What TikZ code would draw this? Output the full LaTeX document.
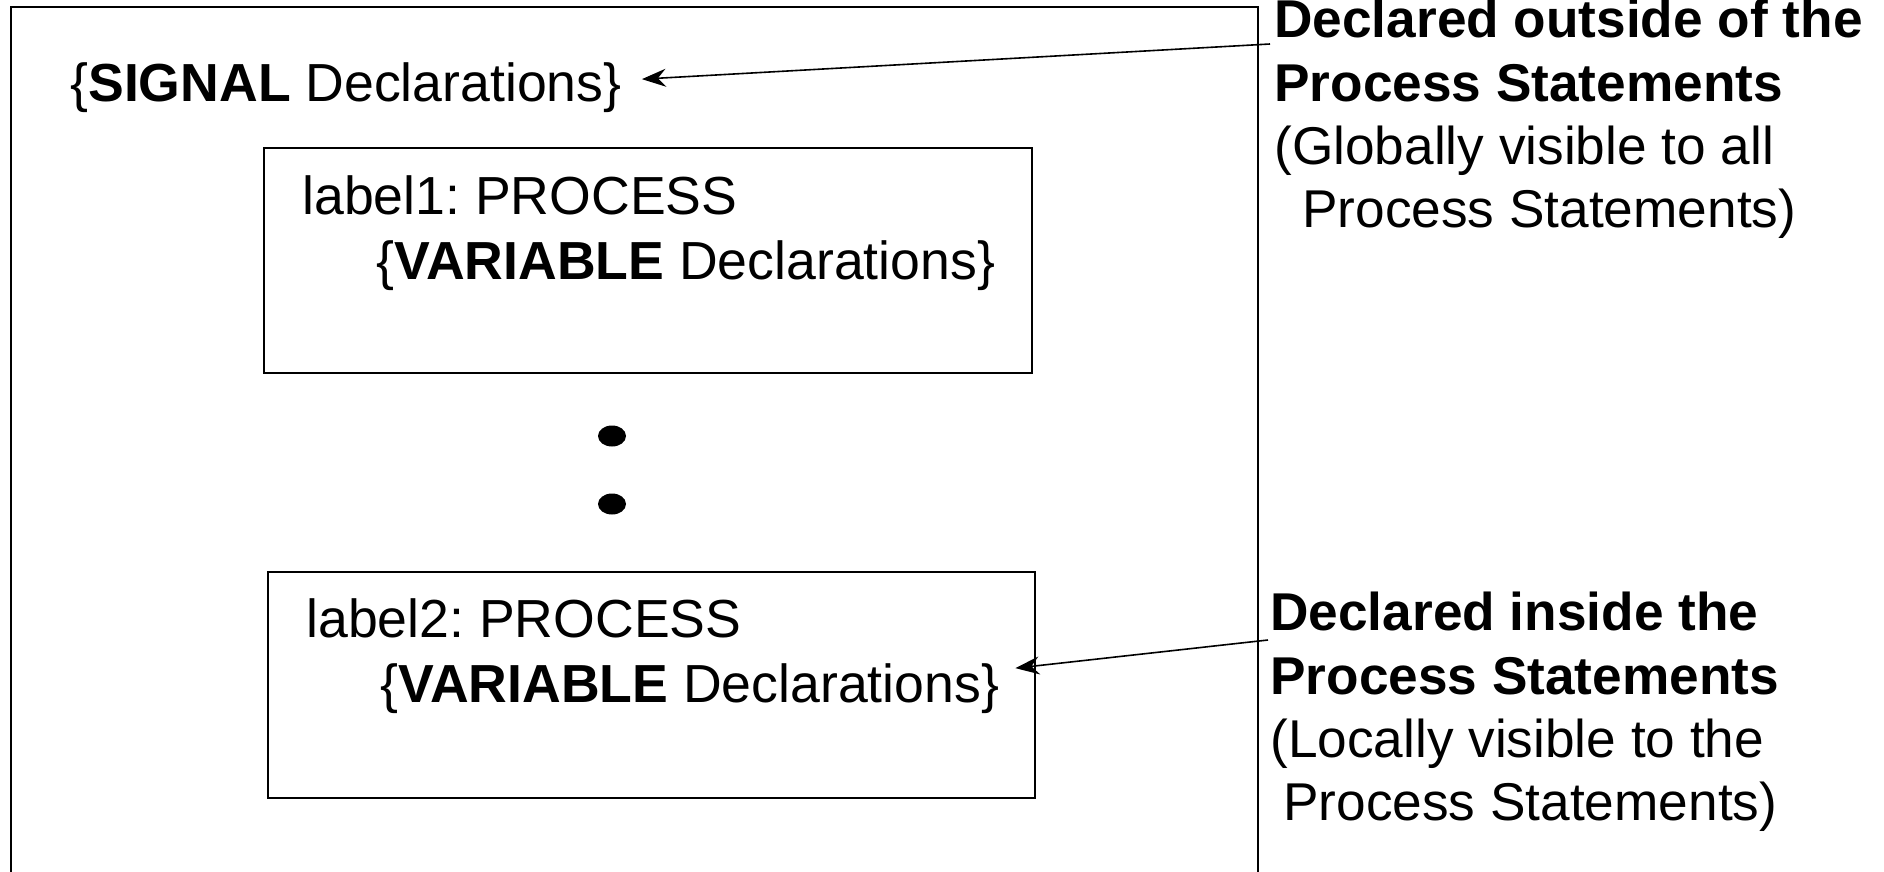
\documentclass[tikz,border=0pt]{standalone}
\usepackage{fontspec}
\setmainfont{Liberation Sans}
\usetikzlibrary{arrows.meta,shapes.geometric}
\frenchspacing

\tikzset{
  frame/.style={draw=black, line width=1pt},
  procbox/.style={draw=black, line width=1pt, rectangle, inner sep=0pt, anchor=north west},
  txt/.style={inner sep=0pt, anchor=base west, font=\fontsize{26.8}{31.65}\selectfont},
  note/.style={inner sep=0pt, anchor=north west, align=left, font=\fontsize{26.6}{31.65}\selectfont},
  dotmark/.style={ellipse, fill=black, inner sep=0pt, minimum width=14pt, minimum height=10.5pt},
  arr/.style={line width=0.8pt, -{Stealth[length=12pt, width=9pt, inset=4pt]}}
}

\begin{document}
\begin{tikzpicture}[x=0.5pt, y=-0.5pt]
  \useasboundingbox (0,0) rectangle (1884,872);
  \clip (0,0) rectangle (1884,872);

  % enclosing architecture body
  \draw[frame] (11,7) rectangle (1258,900);

  % signal declarations
  \node[txt] (sig) at (70,102) {\{\textbf{SIGNAL} Declarations\}};

  % first process
  \node[procbox, minimum width=384pt, minimum height=112.5pt] (p1) at (263,147) {};
  \node[txt] (l1) at (302,214) {label1: PROCESS};
  \node[txt] (v1) at (376,279) {\{\textbf{VARIABLE} Declarations\}};

  % ellipsis between processes
  \node[dotmark] (d1) at (612,436) {};
  \node[dotmark] (d2) at (612,504) {};

  % second process
  \node[procbox, minimum width=383.5pt, minimum height=113pt] (p2) at (267,571) {};
  \node[txt] (l2) at (306,637) {label2: PROCESS};
  \node[txt] (v2) at (380,702) {\{\textbf{VARIABLE} Declarations\}};

  % annotations
  \node[note] (n1) at (1274,-1) {\textbf{Declared outside of the}\\
    \textbf{Process Statements}\\
    (Globally visible to all\\
    \hspace*{14pt}Process Statements)};
  \node[note] (n2) at (1270,592) {\textbf{Declared inside the}\\
    \textbf{Process Statements}\\
    (Locally visible to the\\
    \hspace*{6.5pt}Process Statements)};

  \coordinate (s1) at (1270,44);
  \coordinate (s2) at (1268,640);
  \draw[arr] (s1) -- ([shift={(20,-9)}]sig.east);
  \draw[arr] (s2) -- ([shift={(16,-20)}]v2.east);
\end{tikzpicture}
\end{document}
